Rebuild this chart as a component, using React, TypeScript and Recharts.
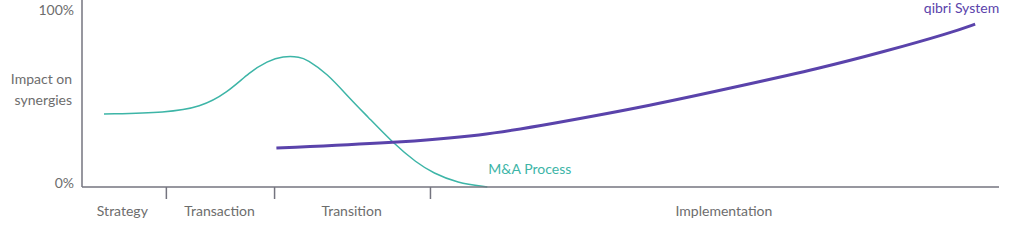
import React from 'react'
import { LineChart, Line, XAxis, YAxis } from 'recharts'

// phases along the time axis (0..100)
const phaseNames = ['Strategy', 'Transaction', 'Transition', 'Implementation']
const phaseCenters = [4.4, 15.0, 29.4, 70.0]
const phaseBounds = [9.2, 21.0, 38.0]

const yTicks = [0, 100]

// M&A process curve
const maX = [2.4, 9.3, 12.9, 15.8, 18.3, 20.2, 21.9, 23.8, 24.5, 26.7, 29.2, 31.1, 33.9, 36.5, 38.3, 40.9, 44.2]
const maY = [41.2, 42, 45, 53, 65, 71, 74, 73.5, 72, 64.4, 50, 40, 24.9, 13.6, 7.9, 2.3, 0]

// qibri system curve
const qbX = [21.2, 33.9, 43.7, 51, 61.9, 72.8, 80.2, 87.4, 94.7, 97.4]
const qbY = [22, 24.9, 29, 35.5, 45.8, 58.2, 66.7, 76.3, 87, 92]

const maData = maX.map((x, i) => ({ x, y: maY[i] }))
const qbData = qbX.map((x, i) => ({ x, y: qbY[i] }))
const xTicks = [...phaseCenters, ...phaseBounds].sort((a, b) => a - b)

const TEAL = '#3db5a7'
const PURPLE = '#5a43ab'
const AXIS = '#74747f'
const TEXT = '#6d6d6d'
const FONT = 'Lato, sans-serif'

const YTick = ({ x, y, payload }: any) => (
    <text x={x} y={y} dy={payload.value === 0 ? 1 : 5} textAnchor="end" fill={TEXT} fontSize={14} fontFamily={FONT}>
        {payload.value}%
    </text>
)

const XTick = ({ x, y, payload }: any) => {
    const i = phaseCenters.indexOf(payload.value)
    if (i < 0) {
        return <line x1={x} x2={x} y1={y - 8} y2={y + 4} stroke={AXIS} strokeWidth={1.5} />
    }
    return (
        <text x={x} y={y + 21} textAnchor="middle" fill={TEXT} fontSize={14} fontFamily={FONT}>
            {phaseNames[i]}
        </text>
    )
}

const YLabel = () => (
    <text x={72} textAnchor="end" fill={TEXT} fontSize={14} fontFamily={FONT}>
        <tspan x={72} y={84}>Impact on</tspan>
        <tspan x={72} y={105}>synergies</tspan>
    </text>
)

const seriesLabel = (text: string, color: string, last: number, anchor: 'start' | 'end', dx: number, dy: number) =>
    (props: any) => {
        if (props.index !== last) return null
        return (
            <text x={props.x + dx} y={props.y + dy} textAnchor={anchor} fill={color} fontSize={14} fontFamily={FONT}>
                {text}
            </text>
        )
    }

export default function App() {
    return (
        <div style={{ position: 'absolute', left: 0, top: 0, background: '#fff' }}>
            <LineChart width={1024} height={247} margin={{ top: 0, right: 25, bottom: 0, left: 0 }}>
                <XAxis
                    type="number"
                    dataKey="x"
                    domain={[0, 100]}
                    ticks={xTicks}
                    interval={0}
                    tick={<XTick />}
                    tickLine={false}
                    axisLine={{ stroke: AXIS, strokeWidth: 1.5 }}
                    height={60}
                />
                <YAxis
                    type="number"
                    domain={[0, 105.6]}
                    ticks={yTicks}
                    width={82}
                    axisLine={{ stroke: AXIS, strokeWidth: 1.5 }}
                    tickLine={false}
                    tick={<YTick />}
                    label={<YLabel />}
                />
                <Line
                    data={maData}
                    dataKey="y"
                    type="basis"
                    stroke={TEAL}
                    strokeWidth={1.5}
                    dot={false}
                    isAnimationActive={false}
                    label={seriesLabel('M&A Process', TEAL, maData.length - 1, 'start', 1, -13)}
                />
                <Line
                    data={qbData}
                    dataKey="y"
                    type="basis"
                    stroke={PURPLE}
                    strokeWidth={3}
                    dot={false}
                    isAnimationActive={false}
                    label={seriesLabel('qibri System', PURPLE, qbData.length - 1, 'end', 24, -11)}
                />
            </LineChart>
        </div>
    )
}
